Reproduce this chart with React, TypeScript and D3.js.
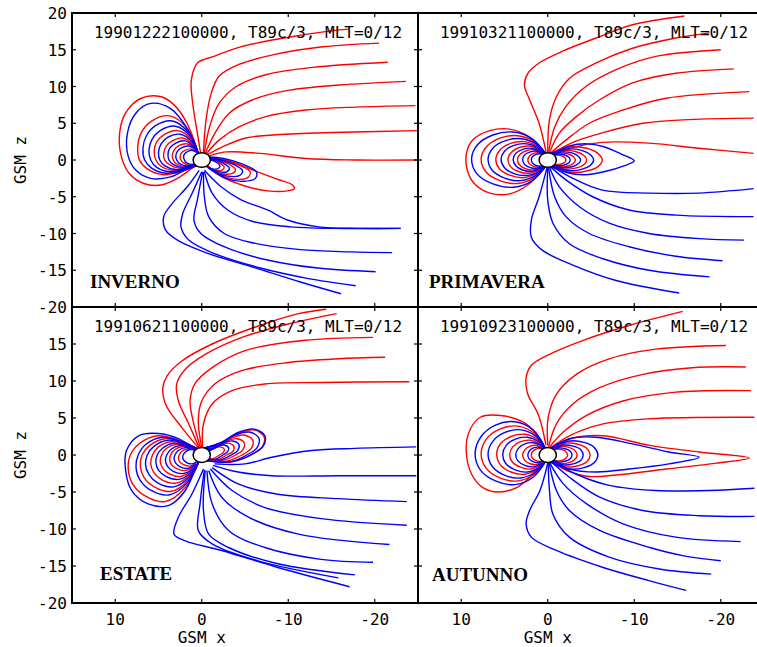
import React from 'react';
import * as d3 from 'd3';

type Pt = [number, number];

// axis ticks (GSM units, Earth radii)
const xTicks = [10, 0, -10, -20];
const zTicks = [20, 15, 10, 5, 0, -5, -10, -15, -20];

const titles = [
  '19901222100000, T89c/3, MLT=0/12',
  '19910321100000, T89c/3, MLT=0/12',
  '19910621100000, T89c/3, MLT=0/12',
  '19910923100000, T89c/3, MLT=0/12',
];
const seasons = ['INVERNO', 'PRIMAVERA', 'ESTATE', 'AUTUNNO'];

// field lines, [x, z] pairs; red = traced from north, blue = from south
const invernoRed: Pt[][] = [
  [[0.1, 0.7], [0.5, 3.6], [1.1, 8.2], [1.2, 10.9], [0.5, 13.2], [-1.4, 14.1], [-4.5, 15.4], [-9.5, 16.6], [-14.5, 17.5], [-17.0, 17.8]],
  [[-0.2, 1.1], [-0.5, 5.5], [-1.1, 9.1], [-2.0, 11.4], [-4.3, 13.0], [-8.2, 14.3], [-14.0, 15.4], [-20.5, 15.9]],
  [[-0.3, 1.0], [-0.9, 4.5], [-2.0, 7.7], [-4.0, 10.0], [-7.4, 11.6], [-12.8, 12.6], [-21.5, 13.3]],
  [[-0.4, 0.9], [-1.5, 3.6], [-3.2, 6.4], [-5.9, 8.2], [-10.1, 9.5], [-15.9, 10.2], [-23.6, 10.7]],
  [[-0.5, 0.8], [-2.0, 2.7], [-4.3, 4.5], [-7.4, 5.9], [-12.0, 6.8], [-17.8, 7.2], [-24.7, 7.4]],
  [[-0.6, 0.7], [-2.4, 1.8], [-5.1, 3.0], [-8.2, 3.4], [-14.0, 3.7], [-25.1, 4.0]],
  [[-0.7, 0.5], [-2.8, 1.1], [-6.7, 0.9], [-12.0, 0.2], [-17.8, 0], [-25.5, 0]],
  [[-0.8, 0.2], [-3.3, -0.2], [-6.0, -1.4], [-8.7, -2.6], [-10.5, -3.4], [-10.7, -3.9], [-9.9, -4.2], [-7.6, -4.2], [-4.9, -3.5], [-2.2, -2.2], [-0.7, -0.8]],
  [[0.4, 0.9], [1.7, 5.0], [3.2, 7.5], [4.7, 8.6], [7.0, 8.4], [8.8, 6.4], [9.5, 3.6], [9.3, 0.5], [8.4, -1.8], [6.7, -3.2], [4.7, -3.4], [2.8, -2.5], [1.1, -1.1], [0.5, -0.7]],
  [[0.4, 0.9], [1.6, 4.2], [3.7, 6.0], [5.8, 5.3], [7.0, 3.7], [7.4, 1.8], [7.2, 0], [6.3, -1.2], [4.4, -2.0], [2.2, -1.5], [0.5, -0.7]],
  [[0.4, 0.9], [1.2, 2.8], [2.75, 4.0], [4.3, 3.5], [5.2, 2.5], [5.5, 1.2], [5.3, 0], [4.7, -0.85], [3.3, -1.4], [1.65, -1.05], [0.5, -0.7]],
  [[0.4, 0.9], [1.0, 2.1], [2.2, 3.0], [3.4, 2.6], [4.1, 1.9], [4.4, 0.9], [4.3, 0], [3.7, -0.65], [2.6, -1.1], [1.3, -0.8], [0.5, -0.7]],
  [[0.4, 0.9], [0.75, 1.55], [1.7, 2.2], [2.65, 1.95], [3.2, 1.35], [3.4, 0.65], [3.3, 0], [2.9, -0.55], [2.0, -0.9], [1.0, -0.7], [0.5, -0.6]],
  [[0.4, 0.9], [1.25, 1.5], [1.95, 1.3], [2.35, 0.95], [2.5, 0.45], [2.4, 0], [2.1, -0.4], [1.5, -0.7], [0.75, -0.55]],
  [[-0.7, 0.3], [-2.5, 0], [-4.3, -0.7], [-5.6, -1.6], [-5.3, -2.4], [-3.8, -2.6], [-2.0, -2.0], [-0.7, -0.9]],
  [[-0.8, 0.2], [-2.0, -0.1], [-3.2, -0.6], [-3.9, -1.3], [-3.6, -1.8], [-2.5, -1.9], [-1.3, -1.4], [-0.6, -0.9]],
  [[-0.9, 0.1], [-1.7, -0.2], [-2.3, -0.6], [-2.6, -1.0], [-2.3, -1.4], [-1.6, -1.4], [-0.9, -1.1]],
];

const invernoBlue: Pt[][] = [
  [[0.3, -1.4], [1.65, -3.6], [3.4, -5.9], [4.4, -7.7], [4.2, -9.5], [2.8, -10.9], [-0.7, -12.7], [-5.7, -14.5], [-11.4, -16.6], [-16.1, -18.2]],
  [[0.0, -1.6], [1.1, -4.5], [2.2, -7.3], [2.4, -9.1], [1.5, -10.9], [-1.4, -12.7], [-6.8, -14.7], [-12.2, -16.1], [-17.8, -17.1]],
  [[-0.1, -1.6], [0.5, -5.4], [0.9, -8.2], [0.1, -10.0], [-3.0, -12.0], [-7.6, -13.6], [-13.4, -14.7], [-20.1, -15.2]],
  [[-0.2, -1.6], [-0.3, -5.0], [-0.8, -7.7], [-2.6, -10.0], [-6.0, -11.3], [-11.4, -12.2], [-17.2, -12.5], [-22.0, -12.6]],
  [[-0.3, -1.6], [-1.2, -4.5], [-3.0, -6.8], [-6.0, -8.4], [-10.3, -9.1], [-15.3, -9.3], [-23.0, -9.3]],
  [[-0.3, -1.4], [-2.2, -3.6], [-4.5, -5.4], [-7.6, -6.8], [-10.0, -8.2], [-13.5, -9.1], [-18.0, -9.3], [-23.0, -9.3]],
  [[0.4, 0.9], [1.8, 4.5], [3.6, 7.0], [5.9, 7.7], [7.6, 6.4], [8.6, 3.6], [8.5, 0.5], [7.6, -1.4], [5.9, -2.5], [3.6, -2.3], [1.7, -1.2], [0.5, -0.6]],
  [[0.4, 0.9], [1.5, 3.7], [3.4, 5.3], [5.3, 4.7], [6.4, 3.3], [6.8, 1.6], [6.6, 0], [5.8, -1.1], [4.1, -1.8], [2.0, -1.35], [0.5, -0.7]],
  [[0.4, 0.9], [1.3, 3.2], [3.05, 4.6], [4.8, 4.0], [5.7, 2.9], [6.1, 1.4], [5.9, 0], [5.2, -1.0], [3.7, -1.6], [1.8, -1.2], [0.5, -0.7]],
  [[0.4, 0.9], [1.1, 2.45], [2.5, 3.5], [3.9, 3.1], [4.7, 2.2], [5.0, 1.05], [4.85, 0], [4.25, -0.8], [3.0, -1.3], [1.5, -1.0], [0.5, -0.7]],
  [[0.4, 0.9], [0.9, 1.8], [1.95, 2.6], [3.0, 2.3], [3.7, 1.6], [3.9, 0.8], [3.8, 0], [3.3, -0.6], [2.3, -1.0], [1.2, -0.75], [0.5, -0.6]],
  [[0.4, 0.9], [0.65, 1.35], [1.5, 1.9], [2.35, 1.65], [2.8, 1.2], [3.0, 0.55], [2.9, 0], [2.55, -0.5], [1.8, -0.8], [0.9, -0.6]],
  [[0.4, 0.9], [1.05, 1.3], [1.65, 1.15], [2.0, 0.8], [2.1, 0.4], [2.0, 0], [1.8, -0.35], [1.25, -0.6], [0.6, -0.5]],
  [[-0.7, 0.4], [-2.5, 0.2], [-4.8, -0.6], [-6.3, -1.6], [-6.2, -2.5], [-4.8, -2.9], [-2.8, -2.5], [-0.8, -1.0]],
  [[-0.7, 0.3], [-2.2, 0], [-3.7, -0.6], [-4.7, -1.4], [-4.4, -2.1], [-3.0, -2.2], [-1.6, -1.7], [-0.6, -0.9]],
  [[-0.9, 0.2], [-1.9, -0.1], [-2.7, -0.6], [-3.2, -1.1], [-2.9, -1.6], [-2.0, -1.6], [-1.1, -1.3]],
  [[-0.9, 0.1], [-1.5, -0.2], [-2.0, -0.6], [-2.1, -0.9], [-1.8, -1.2], [-1.2, -1.2], [-0.8, -1.0]],
];

const primaveraRed: Pt[][] = [
  [[0.2, 1.1], [1.0, 5.0], [2.1, 8.2], [2.7, 10.2], [2.3, 11.8], [1.0, 13.2], [-1.7, 14.8], [-5.6, 16.6], [-9.8, 18.4], [-15.8, 19.6]],
  [[0, 1.1], [-0.2, 5.5], [-1.0, 8.6], [-2.5, 11.1], [-5.6, 13.2], [-9.8, 15.2], [-14.8, 16.6], [-18.7, 17.3]],
  [[-0.1, 1.1], [-0.8, 4.5], [-2.1, 7.3], [-4.4, 10.0], [-7.9, 12.3], [-12.5, 14.1], [-20.0, 15.0]],
  [[-0.2, 1.0], [-1.3, 3.6], [-3.3, 5.9], [-6.0, 8.2], [-9.8, 10.5], [-14.8, 11.8], [-21.5, 12.4]],
  [[-0.3, 0.9], [-2.1, 2.7], [-4.8, 5.0], [-8.7, 6.8], [-13.7, 8.4], [-23.3, 9.3]],
  [[-0.4, 0.8], [-2.9, 2.4], [-6.3, 3.7], [-11.0, 5.0], [-16.3, 5.5], [-23.8, 5.7]],
  [[-0.5, 0.7], [-2.9, 1.7], [-6.3, 2.4], [-11.7, 2.3], [-17.5, 1.6], [-23.8, 0.9]],
  [[0.4, 0.9], [2.1, 3.1], [4.4, 4.2], [6.7, 4.0], [8.7, 2.7], [9.4, 0.9], [9.3, -1.4], [8.5, -3.2], [6.7, -4.5], [4.4, -4.6], [2.1, -3.2], [0.4, -0.9]],
  [[0.3, 0.95], [1.54, 2.5], [3.47, 3.3], [5.54, 2.97], [7.08, 1.8], [7.7, 0.15], [7.16, -1.6], [5.54, -2.8], [3.47, -3.2], [1.54, -2.4], [0.3, -0.95]],
  [[0.3, 0.95], [1.2, 1.9], [2.7, 2.5], [4.3, 2.25], [5.5, 1.4], [6.0, 0.1], [5.6, -1.2], [4.3, -2.1], [2.7, -2.4], [1.2, -1.8], [0.3, -0.95]],
  [[0.3, 0.95], [0.9, 1.4], [2.1, 1.9], [3.3, 1.7], [4.2, 1.05], [4.6, 0.1], [4.3, -0.9], [3.3, -1.6], [2.1, -1.8], [0.9, -1.35], [0.3, -0.95]],
  [[0.3, 0.95], [0.7, 1.05], [1.6, 1.4], [2.5, 1.26], [3.2, 0.77], [3.5, 0.07], [3.25, -0.68], [2.5, -1.2], [1.6, -1.35], [0.7, -1.0]],
  [[0.3, 0.95], [1.05, 1.0], [1.65, 0.9], [2.1, 0.55], [2.3, 0.05], [2.15, -0.5], [1.65, -0.88], [1.05, -1.0], [0.5, -0.75]],
  [[-0.4, 0.9], [-1.3, 1.4], [-2.8, 1.8], [-4.5, 1.6], [-5.8, 0.9], [-6.3, 0.0], [-5.8, -0.9], [-4.5, -1.5], [-2.8, -1.7], [-1.3, -1.3], [-0.4, -0.9]],
  [[-0.3, 0.95], [-1.0, 1.05], [-2.0, 1.3], [-3.2, 1.15], [-4.15, 0.65], [-4.5, 0], [-4.15, -0.65], [-3.2, -1.1], [-2.0, -1.25], [-1.0, -1.0]],
  [[-0.3, 0.95], [-0.7, 0.8], [-1.45, 0.95], [-2.3, 0.85], [-2.95, 0.47], [-3.2, 0], [-2.95, -0.47], [-2.3, -0.82], [-1.45, -0.92], [-0.7, -0.75]],
  [[-0.5, 0.65], [-1.0, 0.68], [-1.5, 0.6], [-1.95, 0.33], [-2.1, 0], [-1.95, -0.33], [-1.5, -0.58], [-1.0, -0.65], [-0.5, -0.6]],
];

const primaveraBlue: Pt[][] = [
  [[0.1, -1.1], [1.0, -5.0], [1.9, -8.2], [1.9, -10.5], [0.6, -12.3], [-2.9, -14.3], [-7.9, -16.4], [-15.2, -18.1]],
  [[0, -1.1], [0, -5.5], [-0.6, -8.6], [-2.5, -11.4], [-6.3, -13.4], [-11.7, -15.0], [-18.7, -15.9]],
  [[-0.1, -1.1], [-0.8, -5.0], [-2.1, -7.7], [-4.8, -10.0], [-9.4, -11.8], [-14.8, -13.1], [-20.2, -13.7]],
  [[-0.2, -1.0], [-1.3, -3.6], [-3.7, -6.4], [-7.1, -8.6], [-11.7, -10.0], [-17.5, -10.7], [-22.7, -10.9]],
  [[-0.3, -0.9], [-2.1, -2.7], [-5.2, -5.0], [-9.4, -6.8], [-14.8, -7.5], [-23.8, -7.7]],
  [[-0.4, -0.8], [-2.9, -2.5], [-6.3, -4.1], [-11.7, -4.5], [-17.5, -4.5], [-23.8, -3.9]],
  [[-0.5, 0.8], [-2.5, 1.9], [-4.5, 2.2], [-6.5, 1.8], [-8.5, 0.8], [-10.0, -0.1], [-8.8, -0.8], [-6.5, -1.6], [-4.3, -2.0], [-2.2, -1.7], [-0.6, -0.8]],
  [[-0.4, 0.9], [-1.1, 1.2], [-2.4, 1.5], [-3.8, 1.35], [-4.9, 0.75], [-5.3, 0], [-4.9, -0.75], [-3.8, -1.3], [-2.4, -1.45], [-1.1, -1.1], [-0.4, -0.9]],
  [[-0.3, 0.95], [-0.85, 0.9], [-1.7, 1.1], [-2.7, 1.0], [-3.5, 0.55], [-3.8, 0], [-3.5, -0.55], [-2.7, -0.95], [-1.7, -1.05], [-0.85, -0.85]],
  [[-0.3, 0.9], [-0.6, 0.7], [-1.2, 0.8], [-1.85, 0.72], [-2.4, 0.4], [-2.6, 0], [-2.4, -0.4], [-1.85, -0.7], [-1.2, -0.78], [-0.6, -0.65]],
  [[0.3, 0.95], [1.76, 2.85], [3.96, 3.8], [6.34, 3.4], [8.1, 2.1], [8.8, 0.2], [8.2, -1.85], [6.34, -3.25], [3.96, -3.7], [1.76, -2.8], [0.3, -0.95]],
  [[0.3, 0.95], [1.38, 2.2], [3.1, 2.9], [4.97, 2.6], [6.35, 1.6], [6.9, 0.15], [6.42, -1.4], [4.97, -2.46], [3.1, -2.8], [1.38, -2.1], [0.3, -0.95]],
  [[0.3, 0.95], [1.1, 1.65], [2.4, 2.2], [3.9, 2.0], [5.0, 1.2], [5.4, 0.1], [5.0, -1.05], [3.9, -1.85], [2.4, -2.1], [1.1, -1.6], [0.3, -0.95]],
  [[0.3, 0.95], [0.8, 1.2], [1.8, 1.6], [2.9, 1.45], [3.7, 0.9], [4.0, 0.08], [3.7, -0.78], [2.9, -1.36], [1.8, -1.55], [0.8, -1.15], [0.3, -0.95]],
  [[0.3, 0.95], [0.6, 0.9], [1.3, 1.2], [2.1, 1.08], [2.7, 0.66], [2.9, 0.06], [2.7, -0.58], [2.1, -1.0], [1.3, -1.15], [0.6, -0.86]],
  [[0.4, 0.65], [0.85, 0.85], [1.35, 0.77], [1.75, 0.47], [1.9, 0.04], [1.75, -0.42], [1.35, -0.75], [0.85, -0.85], [0.4, -0.64]],
];

const estateRed: Pt[][] = [
  [[0.4, 1.0], [2.3, 3.7], [4.2, 6.9], [4.5, 9.1], [4.0, 10.7], [2.3, 12.7], [-1.2, 15.0], [-6.2, 17.3], [-11.2, 19.1], [-14.4, 19.7]],
  [[0.3, 1.0], [1.5, 4.2], [2.7, 7.3], [2.9, 9.6], [1.9, 11.6], [-0.4, 13.6], [-4.2, 15.7], [-10.0, 17.7], [-15.6, 19.1]],
  [[0.15, 1.0], [1.0, 4.6], [1.35, 7.3], [0.8, 9.6], [-1.2, 11.8], [-5.0, 14.1], [-11.9, 15.5], [-19.8, 15.9]],
  [[0, 1.0], [0.4, 4.6], [0, 7.3], [-1.5, 9.6], [-4.6, 11.4], [-10.0, 12.5], [-15.8, 13.0], [-21.2, 13.2]],
  [[-0.1, 1.0], [-0.2, 4.2], [-1.2, 6.9], [-3.5, 8.7], [-7.3, 9.6], [-13.8, 9.8], [-24.0, 9.9]],
  [[0.5, 0.85], [2.55, 1.95], [5.1, 2.6], [7.2, 1.55], [8.25, 0], [8.5, -1.9], [8.0, -3.9], [6.6, -5.5], [4.25, -6.3], [1.9, -4.4], [0.35, -0.95]],
  [[0.5, 0.85], [2.1, 1.65], [4.25, 2.2], [6.0, 1.3], [6.9, 0], [7.1, -1.5], [6.7, -3.0], [5.5, -4.3], [3.55, -4.9], [1.55, -3.4], [0.35, -0.95]],
  [[0.5, 0.85], [1.75, 1.35], [3.55, 1.8], [5.0, 1.1], [5.7, 0], [5.9, -1.15], [5.55, -2.35], [4.6, -3.35], [2.95, -3.8], [1.3, -2.65], [0.35, -0.95]],
  [[0.5, 0.85], [1.45, 1.1], [2.9, 1.45], [4.1, 0.87], [4.65, 0], [4.8, -0.87], [4.5, -1.8], [3.75, -2.55], [2.4, -2.9], [1.05, -2.0], [0.35, -0.95]],
  [[0.5, 0.85], [1.1, 0.86], [2.2, 1.15], [3.15, 0.7], [3.6, 0], [3.7, -0.63], [3.5, -1.3], [2.9, -1.85], [1.85, -2.1], [0.8, -1.5]],
  [[0.5, 0.85], [0.8, 0.65], [1.6, 0.85], [2.3, 0.5], [2.6, 0], [2.7, -0.45], [2.55, -0.93], [2.1, -1.3], [1.35, -1.5], [0.6, -1.05]],
  [[-0.3, 0.95], [-2.2, 1.6], [-4.1, 2.9], [-6.0, 3.4], [-7.2, 2.5], [-7.0, 1.1], [-5.7, 0], [-3.7, -0.9], [-1.8, -0.9], [-0.6, -0.6]],
  [[-0.3, 0.95], [-1.8, 1.3], [-3.4, 2.3], [-4.9, 2.7], [-5.9, 2.0], [-5.7, 0.85], [-4.65, 0], [-3.0, -0.8], [-1.5, -0.8], [-0.6, -0.8]],
  [[-0.3, 0.95], [-1.5, 1.05], [-2.8, 1.85], [-4.05, 2.2], [-4.9, 1.65], [-4.75, 0.7], [-3.9, 0], [-2.5, -0.7], [-1.25, -0.7], [-0.6, -0.8]],
  [[-0.3, 0.95], [-1.15, 0.75], [-2.1, 1.35], [-3.05, 1.6], [-3.7, 1.2], [-3.6, 0.5], [-2.9, 0], [-1.9, -0.6], [-0.95, -0.6]],
  [[-0.3, 0.95], [-0.8, 0.55], [-1.5, 0.95], [-2.15, 1.1], [-2.6, 0.8], [-2.5, 0.35], [-2.05, 0], [-1.3, -0.5], [-0.7, -0.5]],
];

const estateBlue: Pt[][] = [
  [[-1.5, -1.2], [-5.0, -1.2], [-8.1, -0.3], [-12.7, 0.6], [-17.7, 0.9], [-24.8, 1.1]],
  [[-1.3, -1.4], [-4.2, -2.3], [-8.1, -2.8], [-15.8, -2.8], [-24.8, -2.8]],
  [[-1.2, -1.7], [-4.2, -3.9], [-8.8, -5.3], [-15.8, -5.9], [-23.7, -6.3]],
  [[-1.0, -1.9], [-3.5, -4.8], [-7.3, -7.1], [-13.8, -8.6], [-23.7, -9.5]],
  [[-0.8, -2.1], [-2.3, -5.7], [-5.4, -8.4], [-11.2, -10.7], [-21.7, -12.1]],
  [[-0.6, -2.1], [-1.2, -6.6], [-3.1, -10.2], [-7.3, -12.5], [-13.8, -14.1], [-19.8, -14.5]],
  [[-0.4, -2.1], [-0.2, -7.5], [-0.8, -10.7], [-3.1, -12.5], [-8.8, -14.7], [-17.7, -16.2]],
  [[-0.2, -1.9], [1.15, -5.3], [2.7, -8.4], [3.2, -10.7], [1.9, -11.6], [-2.3, -12.9], [-8.8, -15.2], [-17.1, -17.8]],
  [[-0.3, -2.0], [0.2, -6.6], [0.4, -10.2], [-1.2, -12.0], [-6.5, -14.3], [-15.8, -16.6]],
  [[0.8, 0.8], [2.7, 2.2], [5.0, 2.9], [7.3, 2.6], [8.7, 0.6], [8.8, -2.1], [8.1, -4.8], [6.2, -6.6], [3.8, -6.8], [1.9, -4.8], [0.6, -1.2]],
  [[0.5, 0.85], [2.3, 1.8], [4.55, 2.4], [6.45, 1.45], [7.35, 0], [7.6, -1.6], [7.15, -3.35], [5.9, -4.75], [3.8, -5.4], [1.7, -3.8], [0.35, -0.95]],
  [[0.5, 0.85], [1.95, 1.5], [3.9, 2.0], [5.5, 1.2], [6.3, 0], [6.5, -1.3], [6.1, -2.65], [5.05, -3.8], [3.25, -4.3], [1.45, -3.0], [0.35, -0.95]],
  [[0.5, 0.85], [1.6, 1.2], [3.2, 1.6], [4.5, 0.95], [5.15, 0], [5.3, -1.0], [5.0, -2.05], [4.15, -2.9], [2.65, -3.3], [1.15, -2.3], [0.35, -0.95]],
  [[0.5, 0.85], [1.25, 1.0], [2.5, 1.3], [3.55, 0.78], [4.05, 0], [4.2, -0.75], [3.95, -1.55], [3.3, -2.2], [2.1, -2.5], [0.9, -1.75], [0.35, -0.95]],
  [[0.5, 0.85], [0.95, 0.75], [1.9, 1.0], [2.7, 0.6], [3.1, 0], [3.2, -0.54], [3.0, -1.1], [2.5, -1.6], [1.6, -1.8], [0.7, -1.25]],
  [[0.5, 0.7], [1.3, 0.75], [1.85, 0.45], [2.15, 0], [2.2, -0.36], [2.05, -0.75], [1.7, -1.05], [1.1, -1.2], [0.5, -0.85]],
  [[-0.3, 0.95], [-2.3, 1.75], [-4.2, 3.05], [-6.1, 3.5], [-7.3, 2.6], [-7.1, 1.2], [-5.8, 0.1], [-3.8, -0.8], [-1.9, -1.0], [-0.6, -0.7]],
  [[-0.3, 0.95], [-2.0, 1.45], [-3.75, 2.65], [-5.5, 3.1], [-6.6, 2.3], [-6.4, 1.0], [-5.2, 0], [-3.4, -0.9], [-1.65, -0.9], [-0.6, -0.8]],
  [[-0.3, 0.95], [-1.35, 0.9], [-2.45, 1.6], [-3.55, 1.9], [-4.3, 1.4], [-4.15, 0.6], [-3.4, 0], [-2.2, -0.65], [-1.1, -0.65], [-0.6, -0.8]],
  [[-0.3, 0.95], [-0.95, 0.65], [-1.75, 1.15], [-2.55, 1.35], [-3.1, 1.0], [-3.0, 0.45], [-2.45, 0], [-1.6, -0.55], [-0.8, -0.55]],
];

const autunnoRed: Pt[][] = [
  [[0.2, 1.3], [1.1, 5.5], [2.3, 8.2], [2.5, 10.5], [1.9, 12.1], [-0.2, 13.6], [-4.1, 15.5], [-9.4, 17.5], [-15.6, 19.4]],
  [[0, 1.3], [-0.05, 5.1], [-1.0, 8.2], [-3.3, 10.9], [-7.1, 13.0], [-12.5, 14.3], [-20.6, 14.8]],
  [[-0.1, 1.1], [-1.0, 4.2], [-2.9, 6.9], [-6.0, 9.1], [-11.0, 10.9], [-16.7, 11.8], [-22.9, 11.9]],
  [[-0.15, 1.0], [-1.8, 3.1], [-4.4, 5.3], [-8.7, 7.3], [-14.8, 8.5], [-23.5, 8.7]],
  [[-0.3, 0.95], [-2.5, 2.6], [-6.4, 4.2], [-11.8, 4.9], [-23.9, 5.1]],
  [[-0.6, 1.0], [-2.9, 2.3], [-6.4, 2.6], [-11.8, 1.3], [-17.5, 0.4], [-23.3, -0.4], [-19.5, -1.1], [-13.7, -1.9], [-7.9, -2.7], [-4.8, -2.9], [-2.2, -2.1], [-0.6, -1.0]],
  [[0.5, 1.5], [2.5, 4.2], [5.2, 5.3], [7.8, 5.1], [9.2, 2.8], [9.4, 0.1], [8.8, -2.6], [7.5, -4.4], [5.7, -5.0], [3.6, -4.4], [1.7, -2.6], [0.5, -1.2]],
  [[0.3, 0.95], [1.55, 2.9], [3.45, 3.9], [5.55, 3.5], [7.1, 2.15], [7.7, 0.2], [7.15, -1.75], [5.55, -3.1], [3.45, -3.5], [1.55, -2.6], [0.3, -0.95]],
  [[0.3, 0.95], [1.2, 2.1], [2.65, 2.8], [4.25, 2.5], [5.45, 1.55], [5.9, 0.15], [5.5, -1.3], [4.25, -2.3], [2.65, -2.6], [1.2, -1.95], [0.3, -0.95]],
  [[0.3, 0.95], [0.9, 1.5], [2.0, 2.0], [3.15, 1.8], [4.05, 1.1], [4.4, 0.1], [4.1, -0.95], [3.15, -1.65], [2.0, -1.9], [0.9, -1.4], [0.3, -0.95]],
  [[0.3, 0.95], [0.6, 1.0], [1.3, 1.3], [2.1, 1.17], [2.65, 0.7], [2.9, 0.06], [2.7, -0.65], [2.1, -1.15], [1.3, -1.3], [0.6, -0.98]],
  [[0.4, 0.66], [0.85, 0.88], [1.37, 0.8], [1.75, 0.48], [1.9, 0.04], [1.77, -0.44], [1.37, -0.77], [0.85, -0.88], [0.4, -0.66]],
  [[-0.3, 0.95], [-1.0, 1.2], [-2.2, 1.6], [-3.5, 1.45], [-4.5, 0.9], [-4.9, 0], [-4.5, -0.9], [-3.5, -1.45], [-2.2, -1.6], [-1.0, -1.2], [-0.3, -0.95]],
  [[-0.3, 0.95], [-0.7, 0.86], [-1.55, 1.15], [-2.45, 1.03], [-3.1, 0.63], [-3.4, 0], [-3.1, -0.63], [-2.45, -1.03], [-1.55, -1.15], [-0.7, -0.86]],
  [[-0.5, 0.6], [-1.05, 0.8], [-1.65, 0.72], [-2.1, 0.44], [-2.3, 0], [-2.1, -0.44], [-1.65, -0.72], [-1.05, -0.8], [-0.5, -0.6]],
];

const autunnoBlue: Pt[][] = [
  [[0, -1.1], [0.9, -4.8], [2.1, -7.5], [2.5, -9.3], [1.9, -11.1], [-1.0, -12.9], [-6.4, -15.2], [-11.8, -17.0], [-16.0, -18.3]],
  [[-0.05, -1.1], [-0.2, -4.8], [-0.6, -8.0], [-2.5, -11.1], [-7.1, -13.8], [-12.9, -15.4], [-18.9, -16.1]],
  [[-0.15, -1.0], [-1.0, -4.8], [-2.5, -7.5], [-6.0, -10.2], [-11.8, -12.5], [-15.6, -13.6], [-20.0, -14.3]],
  [[-0.2, -1.0], [-1.8, -3.9], [-4.5, -6.6], [-8.7, -9.3], [-14.8, -11.1], [-22.3, -11.7]],
  [[-0.35, -0.85], [-2.5, -3.0], [-6.0, -5.7], [-11.0, -7.5], [-17.5, -8.2], [-23.9, -8.3]],
  [[-0.45, -0.8], [-3.3, -2.6], [-7.1, -4.1], [-12.5, -4.8], [-18.7, -4.8], [-23.9, -4.5]],
  [[-0.5, 1.0], [-2.5, 2.2], [-5.6, 2.4], [-9.8, 1.5], [-14.0, 0.4], [-17.5, -0.3], [-14.0, -1.2], [-9.4, -1.9], [-5.6, -2.3], [-2.5, -1.9], [-0.6, -0.9]],
  [[-0.3, 0.95], [-1.2, 1.45], [-2.6, 1.9], [-4.2, 1.7], [-5.35, 1.05], [-5.8, 0], [-5.35, -1.05], [-4.2, -1.7], [-2.6, -1.9], [-1.2, -1.45], [-0.3, -0.95]],
  [[-0.3, 0.95], [-0.85, 1.0], [-1.85, 1.35], [-2.95, 1.2], [-3.8, 0.75], [-4.1, 0], [-3.8, -0.75], [-2.95, -1.2], [-1.85, -1.35], [-0.85, -1.0], [-0.3, -0.95]],
  [[-0.3, 0.9], [-0.6, 0.7], [-1.25, 0.95], [-2.0, 0.85], [-2.6, 0.52], [-2.8, 0], [-2.6, -0.52], [-2.0, -0.85], [-1.25, -0.95], [-0.6, -0.7]],
  [[0.3, 0.95], [1.7, 3.4], [3.8, 4.5], [6.05, 4.05], [7.7, 2.5], [8.4, 0.2], [7.8, -2.0], [6.05, -3.5], [3.8, -4.0], [1.7, -3.0], [0.3, -0.95]],
  [[0.3, 0.95], [1.4, 2.55], [3.1, 3.4], [4.95, 3.05], [6.35, 1.85], [6.9, 0.15], [6.4, -1.55], [4.95, -2.75], [3.1, -3.1], [1.4, -2.3], [0.3, -0.95]],
  [[0.3, 0.95], [1.05, 1.8], [2.35, 2.4], [3.75, 2.15], [4.8, 1.3], [5.2, 0.1], [4.85, -1.15], [3.75, -2.0], [2.35, -2.3], [1.05, -1.7], [0.3, -0.95]],
  [[0.3, 0.95], [0.75, 1.25], [1.65, 1.65], [2.65, 1.5], [3.4, 0.9], [3.7, 0.08], [3.45, -0.8], [2.65, -1.4], [1.65, -1.6], [0.75, -1.2], [0.3, -0.95]],
  [[0.5, 0.8], [1.05, 1.05], [1.65, 0.95], [2.1, 0.58], [2.3, 0.05], [2.15, -0.52], [1.65, -0.92], [1.05, -1.05], [0.5, -0.8]],
];

const fieldRed = [invernoRed, primaveraRed, estateRed, autunnoRed];
const fieldBlue = [invernoBlue, primaveraBlue, estateBlue, autunnoBlue];

// panel frames in page pixels
const layout = [
  { left: 72, top: 13, height: 294, labelX: 90, labelY: 288 },
  { left: 418, top: 13, height: 294, labelX: 429, labelY: 288 },
  { left: 72, top: 307, height: 296, labelX: 100, labelY: 580 },
  { left: 418, top: 307, height: 296, labelX: 432, labelY: 581 },
];
const panelWidth = 346;
const mono = '"DejaVu Sans Mono", monospace';

function Panel({ i }: { i: number }) {
  const { left, top, height, labelX, labelY } = layout[i];
  const x = d3.scaleLinear().domain([15, -25]).range([left, left + panelWidth]);
  const y = d3.scaleLinear().domain([20, -20]).range([top, top + height]);
  const line = d3
    .line<Pt>()
    .x((d) => x(d[0]))
    .y((d) => y(d[1]))
    .curve(d3.curveCatmullRom.alpha(0.5));
  const clipId = `clip-${i}`;
  const isLeft = i % 2 === 0;
  const isBottom = i >= 2;
  const right = left + panelWidth;
  const bottom = top + height;
  // the lower panels' "20" label would sit on the upper panels' "-20"
  const zLabels = isBottom ? zTicks.slice(1) : zTicks;

  return (
    <g>
      <defs>
        <clipPath id={clipId}>
          <rect x={left} y={top} width={panelWidth} height={height} />
        </clipPath>
      </defs>
      <g clipPath={`url(#${clipId})`} fill="none" strokeWidth={1.4} strokeLinejoin="round">
        {fieldRed[i].map((d, k) => (
          <path key={`r${k}`} d={line(d) || ''} stroke="#ff0000" />
        ))}
        {fieldBlue[i].map((d, k) => (
          <path key={`b${k}`} d={line(d) || ''} stroke="#0000ff" />
        ))}
        <ellipse
          cx={x(0)}
          cy={y(0)}
          rx={x(0) - x(1)}
          ry={y(-1) - y(0)}
          fill="#fff"
          stroke="#000"
          strokeWidth={1.5}
        />
      </g>
      <rect x={left} y={top} width={panelWidth} height={height} fill="none" stroke="#000" strokeWidth={2} />
      {xTicks.map((v) => (
        <g key={`xt${v}`} stroke="#000" strokeWidth={1.2}>
          <line x1={x(v)} x2={x(v)} y1={top} y2={top + 4} />
          <line x1={x(v)} x2={x(v)} y1={bottom - 4} y2={bottom} />
        </g>
      ))}
      {zTicks.slice(1, -1).map((v) => (
        <g key={`zt${v}`} stroke="#000" strokeWidth={1.2}>
          <line x1={left} x2={left + 4} y1={y(v)} y2={y(v)} />
          <line x1={right - 4} x2={right} y1={y(v)} y2={y(v)} />
        </g>
      ))}
      {isLeft &&
        zLabels.map((v) => (
          <text key={`zl${v}`} x={left - 5} y={y(v) + 6} textAnchor="end" fontFamily={mono} fontSize={16} fill="#000">
            {v}
          </text>
        ))}
      {isLeft && (
        <text
          transform={`translate(26,${y(0)}) rotate(-90)`}
          textAnchor="middle"
          fontFamily={mono}
          fontSize={16}
          fill="#000"
        >
          GSM z
        </text>
      )}
      {isBottom &&
        xTicks.map((v) => (
          <text key={`xl${v}`} x={x(v)} y={bottom + 22} textAnchor="middle" fontFamily={mono} fontSize={16} fill="#000">
            {v}
          </text>
        ))}
      {isBottom && (
        <text x={x(0)} y={bottom + 40} textAnchor="middle" fontFamily={mono} fontSize={16} fill="#000">
          GSM x
        </text>
      )}
      <text x={left + 176} y={top + 25} textAnchor="middle" fontFamily={mono} fontSize={16} fill="#000">
        {titles[i]}
      </text>
      <text x={labelX} y={labelY} fontFamily='"Liberation Serif", "Times New Roman", serif' fontWeight="bold" fontSize={19} fill="#000">
        {seasons[i]}
      </text>
    </g>
  );
}

export default function App() {
  return (
    <svg
      width={757}
      height={647}
      viewBox="0 0 757 647"
      style={{ position: 'absolute', left: 0, top: 0, background: '#fff' }}
    >
      <rect x={0} y={0} width={757} height={647} fill="#fff" />
      {[0, 1, 2, 3].map((i) => (
        <Panel key={i} i={i} />
      ))}
    </svg>
  );
}
